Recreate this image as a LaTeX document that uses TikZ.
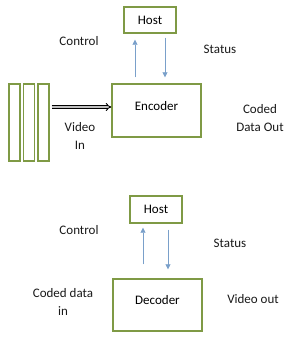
\documentclass[tikz,border=0pt]{standalone}
\usepackage{fontspec}
\setmainfont{Carlito}
\usetikzlibrary{positioning,arrows.meta,calc}
\definecolor{boxgreen}{HTML}{7F9A45}
\definecolor{sigblue}{HTML}{7AA0CA}

\begin{document}
\begin{tikzpicture}[x=1pt, y=-1pt,
  blk/.style={draw=boxgreen, line width=1.4pt, rectangle, minimum width=89pt,
              minimum height=53pt, font=\fontsize{13}{15}\selectfont},
  hostbox/.style={draw=boxgreen, line width=1.4pt, rectangle, minimum width=52pt,
              minimum height=26pt, font=\fontsize{13}{15}\selectfont},
  bar/.style={draw=boxgreen, line width=1.4pt, rectangle, minimum width=11pt,
              minimum height=77pt, inner sep=0pt},
  lbl/.style={font=\fontsize{13}{18}\selectfont, align=center, text=black!90},
  sig/.style={draw=sigblue, line width=0.8pt, -{Triangle[length=5pt, width=5pt]}},
  vid/.style={double=black!25, double distance=1.8pt, line width=0.9pt,
              -{Implies[length=3pt]}},
]
\useasboundingbox (0,0) rectangle (293,341);

% encoder side
\node[hostbox] (host1) at (150,20) {Host};
\node[blk, text depth=9pt] (enc) at (156.5,110.5) {Encoder};
\node[bar] (bar1) at (14.5,122.5) {};
\node[bar] (bar2) at (29,122.5) {};
\node[bar] (bar3) at (43.5,122.5) {};
\coordinate (ctlA) at ([xshift=-15pt]host1.south);
\coordinate (stsA) at ([xshift=15pt]host1.south);
\draw[sig, shorten <=6pt, shorten >=6pt] (ctlA |- enc.north) -- (ctlA);
\draw[sig, shorten <=4pt, shorten >=6pt] (stsA) -- (stsA |- enc.north);
\draw[vid, shorten <=2pt] (bar3.east |- 0,107) -- (enc.west |- 0,107);
\node[lbl] (ctl1) at (79,41) {Control};
\node[lbl] (sts1) at (220,49) {Status};
\node[lbl] (vin) at (80,136) {Video\\In};
\node[lbl] (cdo) at (260,118) {Coded\\Data Out};

% decoder side
\node[hostbox, minimum height=27pt] (host2) at (156,209.5) {Host};
\node[blk, minimum height=52pt, text depth=11pt] (dec) at (157.5,305) {Decoder};
\coordinate (ctlB) at ([xshift=-13pt]host2.south);
\coordinate (stsB) at ([xshift=12pt]host2.south);
\draw[sig, shorten <=14pt, shorten >=4pt] (ctlB |- dec.north) -- (ctlB);
\draw[sig, shorten <=6pt, shorten >=9pt] (stsB) -- (stsB |- dec.north);
\node[lbl] (ctl2) at (79,230) {Control};
\node[lbl] (sts2) at (230,243) {Status};
\node[lbl] (cdi) at (63,301.5) {Coded data\\in};
\node[lbl] (vout) at (253,299) {Video out};
\end{tikzpicture}
\end{document}
